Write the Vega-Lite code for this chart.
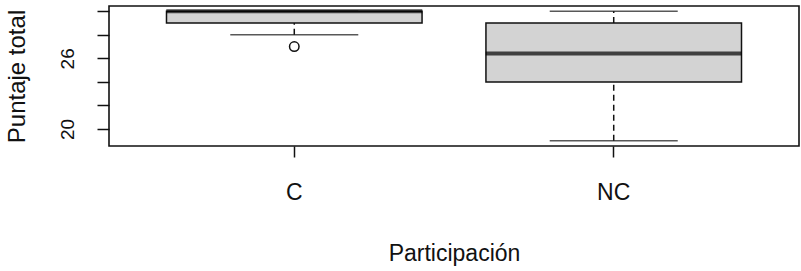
{
  "$schema": "https://vega.github.io/schema/vega-lite/v6.json",
  "width": 690,
  "height": 140,
  "autosize": {"type": "none"},
  "padding": {"left": 109, "top": 6, "right": 2, "bottom": 125},
  "background": "white",
  "config": {
    "font": "Liberation Sans",
    "view": {"stroke": "#111", "strokeWidth": 1.6},
    "axis": {"grid": false, "domain": false, "tickColor": "#111", "tickWidth": 1.5, "labelColor": "#111", "titleColor": "#111", "titleFontWeight": "normal", "labelOverlap": false, "labelFlush": false}
  },
  "datasets": {
    "box": [
      {"Participacion": "C", "min": 28, "q1": 29, "median": 30, "q3": 30, "max": 30},
      {"Participacion": "NC", "min": 19, "q1": 24, "median": 26.4, "q3": 29, "max": 30}
    ],
    "out": [
      {"Participacion": "C", "value": 27}
    ]
  },
  "data": {"name": "box"},
  "encoding": {
    "x": {
      "field": "Participacion", "type": "nominal",
      "scale": {"type": "band", "domain": ["C", "NC"], "paddingInner": 0, "paddingOuter": 0.08},
      "axis": {"title": "Participación", "labelAngle": 0, "tickSize": 11, "labelFontSize": 23, "labelPadding": 24, "titleFontSize": 23, "titlePadding": 38}
    }
  },
  "layer": [
    {
      "mark": {"type": "rule", "color": "#111", "strokeWidth": 1.5, "strokeDash": [6, 4]},
      "encoding": {
        "y": {"field": "min", "type": "quantitative",
          "scale": {"domain": [18.56, 30.44], "nice": false, "zero": false},
          "axis": {"title": "Puntaje total", "values": [20, 22, 24, 26, 28, 30], "tickCount": 12, "labelExpr": "datum.value == 20 || datum.value == 26 ? datum.label : ''", "tickSize": 12, "labelAngle": 270, "labelAlign": "center", "labelBaseline": "bottom", "labelPadding": 20, "labelFontSize": 19, "titleFontSize": 24, "titleX": -92, "titleY": 70, "titleAngle": 270, "titleAlign": "center", "titleBaseline": "middle"}},
        "y2": {"field": "q1"}
      }
    },
    {
      "mark": {"type": "rule", "color": "#111", "strokeWidth": 1.5, "strokeDash": [6, 4]},
      "encoding": {"y": {"field": "q3", "type": "quantitative"}, "y2": {"field": "max"}}
    },
    {
      "mark": {"type": "tick", "color": "#111", "size": 128, "thickness": 1.5, "orient": "horizontal"},
      "encoding": {"y": {"field": "min", "type": "quantitative"}}
    },
    {
      "mark": {"type": "tick", "color": "#111", "size": 128, "thickness": 1.5, "orient": "horizontal"},
      "encoding": {"y": {"field": "max", "type": "quantitative"}}
    },
    {
      "mark": {"type": "bar", "fill": "#d3d3d3", "stroke": "#111", "strokeWidth": 1.5, "width": {"band": 0.8}},
      "encoding": {"y": {"field": "q1", "type": "quantitative"}, "y2": {"field": "q3"}}
    },
    {
      "mark": {"type": "tick", "color": "#000", "size": 256, "thickness": 4, "orient": "horizontal"},
      "encoding": {"y": {"field": "median", "type": "quantitative"}}
    },
    {
      "data": {"name": "out"},
      "mark": {"type": "point", "shape": "circle", "filled": false, "stroke": "#111", "strokeWidth": 1.5, "size": 90, "opacity": 1},
      "encoding": {"y": {"field": "value", "type": "quantitative"}}
    }
  ]
}
